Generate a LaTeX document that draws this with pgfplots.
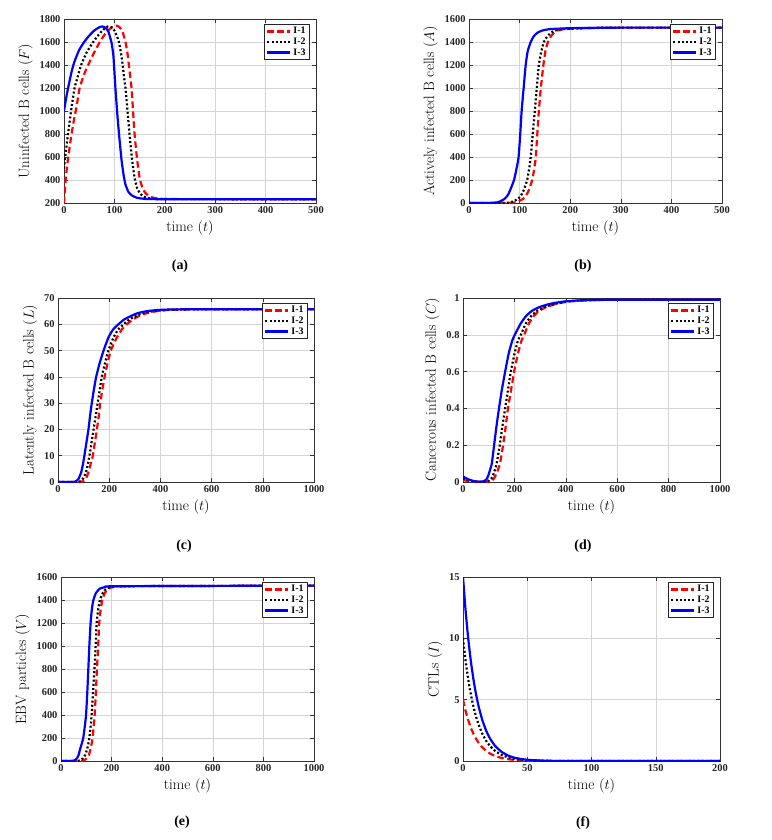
\documentclass[border=0pt]{standalone}
\usepackage{fontspec}
\usepackage{pgfplots}
\pgfplotsset{compat=1.18}
\newfontfamily\tms{Liberation Serif}
\definecolor{mred}{RGB}{255,0,0}
\definecolor{mblue}{RGB}{0,0,255}
\pgfplotsset{
  panel/.style={
    scale only axis, height=184bp,
    xmin=0,
    grid=major,
    major grid style={line width=0.5bp, black!17},
    axis line style={line width=0.6bp, black!80},
    every tick/.style={black!80, line width=0.5bp},
    major tick length=4bp,
    tick label style={font=\tms\bfseries\fontsize{10.5}{12}\selectfont, text=black!85},
    /pgf/number format/assume math mode=true,
    /pgf/number format/1000 sep={},
    label style={font=\fontsize{15}{17}\selectfont},
    xlabel={time $(t)$},
    legend style={at={(1,1)}, anchor=north east, xshift=-6bp, yshift=-5bp, draw=black!85, line width=0.8bp, inner xsep=2bp, inner ysep=1bp, font=\tms\bfseries\fontsize{10}{11}\selectfont, row sep=-1.5bp, cells={anchor=west}},
    legend image code/.code={\draw[#1] (0bp,0bp) -- (23bp,0bp);},
  },
  s1/.style={mred, line width=2.2bp, dash pattern=on 6.5bp off 3.5bp, line join=round, smooth, tension=0.3},
  s2/.style={black, line width=2.2bp, dash pattern=on 2bp off 2.2bp, line join=round, smooth, tension=0.3},
  s3/.style={mblue, line width=2.2bp, line join=round, smooth, tension=0.3},
}
\begin{document}
\begin{tikzpicture}
\path[use as bounding box] (0bp,0bp) rectangle (772bp,-840bp);
% (a)
\begin{axis}[panel, at={(64bp,-203bp)}, anchor=south west, width=252bp,
  xmax=500, ymin=200, ymax=1800, xtick={0,100,...,500}, ytick={200,400,...,1800},
  ylabel={Uninfected B cells $(F)$}]
\addplot[s1] coordinates {(0,200) (2,330) (5,480) (10,650) (15,800) (20,930) (25,1040) (31,1200) (40,1320) (48,1400) (60,1510) (71,1600) (80,1660) (90,1710) (98,1735) (104,1742) (110,1730) (116,1690) (122,1600) (126,1500) (130,1350) (134,1200) (137,1000) (140,800) (145,580) (150,420) (155,340) (160,295) (167,265) (175,248) (190,237) (220,234) (500,233)};
\addlegendentry{I-1}
\addplot[s2] coordinates {(0,500) (4,660) (8,800) (14,1000) (21,1200) (28,1310) (34,1400) (45,1510) (58,1600) (70,1670) (80,1715) (87,1735) (94,1730) (100,1700) (105,1650) (109,1600) (115,1450) (119,1300) (122,1200) (126,1000) (130,800) (135,580) (140,420) (145,330) (150,290) (155,265) (162,248) (175,238) (200,234) (500,233)};
\addlegendentry{I-2}
\addplot[s3] coordinates {(0,1000) (5,1130) (10,1240) (15,1340) (20,1420) (30,1530) (40,1600) (50,1655) (60,1700) (70,1728) (76,1735) (82,1725) (88,1690) (94,1600) (98,1480) (102,1200) (106,960) (110,760) (114,580) (118,450) (122,360) (128,295) (135,265) (145,245) (160,236) (200,233) (500,233)};
\addlegendentry{I-3}
\end{axis}
% (b)
\begin{axis}[panel, at={(469bp,-203bp)}, anchor=south west, width=253bp,
  xmax=500, ymin=0, ymax=1600, xtick={0,100,...,500}, ytick={0,200,...,1600},
  ylabel={Actively infected B cells $(A)$}]
\addplot[s1] coordinates {(0,0) (80,0) (95,10) (105,30) (112,60) (118,110) (125,200) (129,300) (132,400) (135,600) (138,800) (142,1000) (147,1200) (151,1320) (156,1400) (162,1450) (168,1480) (175,1500) (190,1512) (225,1520) (300,1525) (500,1525)};
\addlegendentry{I-1}
\addplot[s2] coordinates {(0,0) (70,0) (85,10) (95,30) (102,60) (108,110) (115,200) (119,300) (122,400) (126,600) (130,800) (134,1000) (138,1200) (143,1320) (148,1400) (155,1450) (162,1480) (170,1500) (185,1512) (220,1520) (300,1525) (500,1525)};
\addlegendentry{I-2}
\addplot[s3] coordinates {(0,0) (40,0) (55,5) (62,15) (70,35) (77,70) (83,130) (89,200) (94,300) (98,400) (101,580) (104,800) (108,1000) (112,1200) (116,1320) (122,1400) (128,1450) (135,1480) (145,1500) (160,1512) (200,1520) (300,1525) (500,1525)};
\addlegendentry{I-3}
\end{axis}
% (c)
\begin{axis}[panel, at={(58bp,-482bp)}, anchor=south west, width=256bp,
  xmax=1000, ymin=0, ymax=70, xtick={0,200,...,1000}, ytick={0,10,...,70},
  ylabel={Latently infected B cells $(L)$}]
\addplot[s1] coordinates {(0,0) (90,0) (100,0.4) (110,1.5) (120,4) (128,7) (136,10) (144,15) (152,20) (159,25) (165,30) (173,35) (182,40) (193,45) (206,50) (230,55) (249,58) (269,60) (291,61.8) (314,63) (345,64.2) (386,65) (440,65.5) (560,65.7) (1000,65.7)};
\addlegendentry{I-1}
\addplot[s2] coordinates {(0,0) (80,0) (90,0.4) (100,1.6) (110,4) (117,7) (123,10) (131,15) (139,20) (147,25) (155,30) (163,35) (171,40) (183,45) (197,50) (217,55) (235,58) (256,60) (278,61.8) (301,63) (330,64.2) (373,65) (430,65.5) (550,65.7) (1000,65.7)};
\addlegendentry{I-2}
\addplot[s3] coordinates {(0,0) (60,0) (70,0.3) (80,1.2) (90,3.5) (97,6.5) (103,10) (111,15) (119,20) (125,25) (132,30) (140,35) (149,40) (162,45) (178,50) (197,55) (215,58) (236,60) (258,61.8) (282,63) (310,64.2) (347,65) (400,65.5) (500,65.7) (1000,65.7)};
\addlegendentry{I-3}
\end{axis}
% (d)
\begin{axis}[panel, at={(463bp,-482bp)}, anchor=south west, width=257bp,
  xmax=1000, ymin=0, ymax=1, xtick={0,200,...,1000}, ytick={0,0.2,0.4,0.6,0.8,1},
  ylabel={Cancerous infected B cells $(C)$}]
\addplot[s1] coordinates {(0,0.01) (10,0.008) (20,0.005) (40,0.002) (60,0.001) (90,0.001) (100,0.002) (110,0.006) (120,0.018) (130,0.045) (137,0.07) (144,0.1) (156,0.2) (166,0.3) (175,0.4) (187,0.5) (199,0.6) (214,0.7) (228,0.77) (238,0.8) (256,0.86) (274,0.9) (296,0.93) (322,0.95) (360,0.967) (406,0.98) (470,0.987) (570,0.99) (1000,0.99)};
\addlegendentry{I-1}
\addplot[s2] coordinates {(0,0.02) (10,0.015) (20,0.01) (30,0.007) (40,0.004) (50,0.002) (60,0.001) (80,0.001) (90,0.002) (100,0.006) (110,0.018) (118,0.04) (125,0.07) (131,0.1) (143,0.2) (153,0.3) (164,0.4) (175,0.5) (186,0.6) (201,0.7) (214,0.77) (225,0.8) (244,0.86) (264,0.9) (288,0.93) (316,0.95) (355,0.967) (400,0.98) (460,0.987) (560,0.99) (1000,0.99)};
\addlegendentry{I-2}
\addplot[s3] coordinates {(0,0.03) (10,0.022) (20,0.015) (30,0.01) (40,0.006) (50,0.003) (60,0.002) (70,0.002) (80,0.004) (90,0.012) (97,0.03) (104,0.06) (112,0.1) (121,0.2) (130,0.3) (140,0.4) (151,0.5) (164,0.6) (178,0.7) (192,0.77) (205,0.81) (224,0.86) (244,0.9) (268,0.93) (296,0.95) (335,0.967) (387,0.98) (450,0.987) (550,0.99) (1000,0.99)};
\addlegendentry{I-3}
\end{axis}
% (e)
\begin{axis}[panel, at={(61bp,-761bp)}, anchor=south west, width=253bp,
  xmax=1000, ymin=0, ymax=1600, xtick={0,200,...,1000}, ytick={0,200,...,1600},
  ylabel={EBV particles $(V)$}]
\addplot[s1] coordinates {(0,0) (80,0) (90,5) (100,20) (110,50) (116,100) (121,150) (125,200) (129,300) (133,400) (138,600) (142,800) (147,1000) (151,1200) (157,1320) (163,1400) (173,1460) (187,1500) (207,1512) (255,1520) (1000,1525)};
\addlegendentry{I-1}
\addplot[s2] coordinates {(0,0) (65,0) (75,5) (85,20) (95,50) (103,100) (108,150) (112,200) (117,300) (121,400) (127,600) (132,800) (137,1000) (141,1200) (147,1320) (154,1400) (165,1460) (180,1500) (200,1512) (250,1520) (1000,1525)};
\addlegendentry{I-2}
\addplot[s3] coordinates {(0,0) (40,0) (50,3) (58,12) (65,30) (70,55) (75,100) (82,150) (88,200) (94,300) (99,400) (104,600) (108,800) (112,1000) (117,1200) (122,1320) (128,1400) (138,1460) (154,1500) (175,1512) (220,1520) (1000,1525)};
\addlegendentry{I-3}
\end{axis}
% (f)
\begin{axis}[panel, at={(463bp,-761bp)}, anchor=south west, width=257bp,
  xmax=200, ymin=0, ymax=15, xtick={0,50,...,200}, ytick={0,5,10,15},
  ylabel={CTLs $(I)$}]
\addplot[s1] coordinates {(0,5) (2,4.09) (4,3.35) (6,2.74) (8,2.25) (10,1.84) (12,1.51) (15,1.12) (18,0.83) (21,0.61) (25,0.41) (30,0.25) (35,0.15) (40,0.09) (45,0.06) (50,0.03) (60,0.01) (70,0) (200,0)};
\addlegendentry{I-1}
\addplot[s2] coordinates {(0,10) (2,8.19) (4,6.70) (6,5.49) (8,4.49) (10,3.68) (12,3.01) (15,2.23) (18,1.65) (21,1.23) (25,0.82) (30,0.50) (35,0.30) (40,0.18) (45,0.11) (50,0.07) (60,0.03) (70,0.01) (80,0) (200,0)};
\addlegendentry{I-2}
\addplot[s3] coordinates {(0,15) (2,12.28) (4,10.05) (6,8.23) (8,6.74) (10,5.52) (12,4.52) (15,3.35) (18,2.48) (21,1.84) (25,1.23) (30,0.75) (35,0.45) (40,0.27) (45,0.17) (50,0.10) (60,0.04) (70,0.01) (80,0) (200,0)};
\addlegendentry{I-3}
\end{axis}
\node[font=\tms\bfseries\fontsize{14}{15}\selectfont] at (180bp,-266bp) {(a)};
\node[font=\tms\bfseries\fontsize{14}{15}\selectfont] at (583bp,-266bp) {(b)};
\node[font=\tms\bfseries\fontsize{14}{15}\selectfont] at (184bp,-546bp) {(c)};
\node[font=\tms\bfseries\fontsize{14}{15}\selectfont] at (583bp,-546bp) {(d)};
\node[font=\tms\bfseries\fontsize{14}{15}\selectfont] at (182bp,-822bp) {(e)};
\node[font=\tms\bfseries\fontsize{14}{15}\selectfont] at (583bp,-823bp) {(f)};
\end{tikzpicture}
\end{document}
